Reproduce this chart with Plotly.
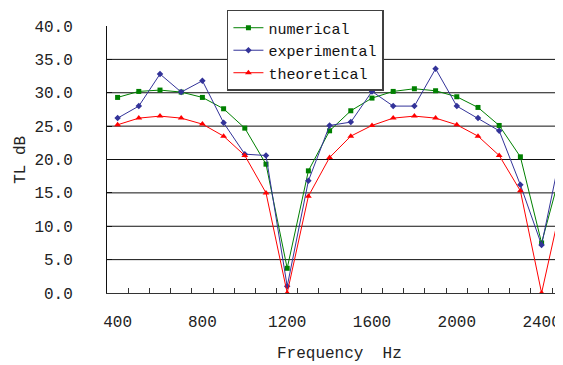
import plotly.graph_objects as go

freq = [400, 500, 600, 700, 800, 900, 1000, 1100, 1200, 1300, 1400, 1500, 1600,
        1700, 1800, 1900, 2000, 2100, 2200, 2300, 2400, 2500]
numerical = [29.3, 30.2, 30.4, 30.1, 29.3, 27.6, 24.7, 19.3, 3.7, 18.3, 24.3, 27.3, 29.2,
             30.2, 30.6, 30.3, 29.4, 27.8, 25.1, 20.4, 7.5, 19.3]
experimental = [26.2, 28.0, 32.8, 30.1, 31.8, 25.5, 20.8, 20.6, 1.0, 16.8, 25.1, 25.6, 30.2,
                28.0, 28.0, 33.6, 28.0, 26.2, 24.3, 16.2, 7.2, 22.5]
theoretical = [25.2, 26.2, 26.5, 26.2, 25.3, 23.5, 20.6, 15.0, 0.0, 14.5, 20.3, 23.5, 25.1,
               26.2, 26.5, 26.2, 25.2, 23.5, 20.6, 15.3, 0.0, 14.3]
x_labels = [400, 800, 1200, 1600, 2000, 2400]
y_ticks = [0, 5, 10, 15, 20, 25, 30, 35, 40]
grid_vals = [5, 10, 15, 20, 25, 30, 35]
category_edges = [450 + 100 * i for i in range(21)]

FONT = "Liberation Mono"

fig = go.Figure()
fig.add_trace(go.Scatter(x=freq, y=numerical, name="numerical", mode="lines+markers",
                         line=dict(color="#008000", width=1),
                         marker=dict(symbol="square", size=5, color="#008000")))
fig.add_trace(go.Scatter(x=freq, y=experimental, name="experimental", mode="lines+markers",
                         line=dict(color="#333399", width=1),
                         marker=dict(symbol="diamond", size=5, color="#333399")))
fig.add_trace(go.Scatter(x=freq, y=theoretical, name="theoretical", mode="lines+markers",
                         line=dict(color="#FF0000", width=1),
                         marker=dict(symbol="triangle-up", size=6, color="#FF0000")))

for g in grid_vals:
    fig.add_shape(type="line", xref="paper", x0=0, x1=1, yref="y", y0=g, y1=g,
                  line=dict(color="#111111", width=1), layer="below")

# page body has an 8px margin, so the figure is 8px smaller than the window
fig.update_layout(
    width=555, height=357,
    margin=dict(l=99, r=0, t=18, b=72),
    paper_bgcolor="white", plot_bgcolor="white",
    font=dict(family=FONT, size=16, color="#222222"),
    showlegend=True,
    legend=dict(x=0.263, y=1.06, xanchor="left", yanchor="top",
                bgcolor="white", bordercolor="#404040", borderwidth=1.5,
                font=dict(family=FONT, size=15, color="#111111"),
                tracegroupgap=0, itemwidth=30),
    xaxis=dict(range=[350, 2501], showgrid=False, zeroline=False,
               showline=True, linecolor="#333333", linewidth=1,
               tickmode="array", tickvals=x_labels, ticktext=[str(v) for v in x_labels],
               ticks="", ticklabelstandoff=14,
               minor=dict(tickmode="array", tickvals=category_edges, ticks="inside",
                          ticklen=5, tickcolor="#333333", showgrid=False)),
    yaxis=dict(range=[0, 40], showgrid=False, zeroline=False,
               showline=True, linecolor="#111111", linewidth=1,
               tickmode="array", tickvals=y_ticks, ticktext=[f"{v:.1f}" for v in y_ticks],
               ticks="inside", ticklen=5, tickcolor="#111111", ticklabelstandoff=30),
    annotations=[
        dict(text="Frequency  Hz", xref="paper", yref="paper", x=0.509, y=-0.23,
             xanchor="center", yanchor="middle", showarrow=False,
             font=dict(family=FONT, size=16, color="#222222")),
        dict(text="TL dB", xref="paper", yref="paper", x=-0.19, y=0.50,
             xanchor="center", yanchor="middle", showarrow=False, textangle=-90,
             font=dict(family=FONT, size=16, color="#222222")),
    ],
)

fig.write_html("out.html")
